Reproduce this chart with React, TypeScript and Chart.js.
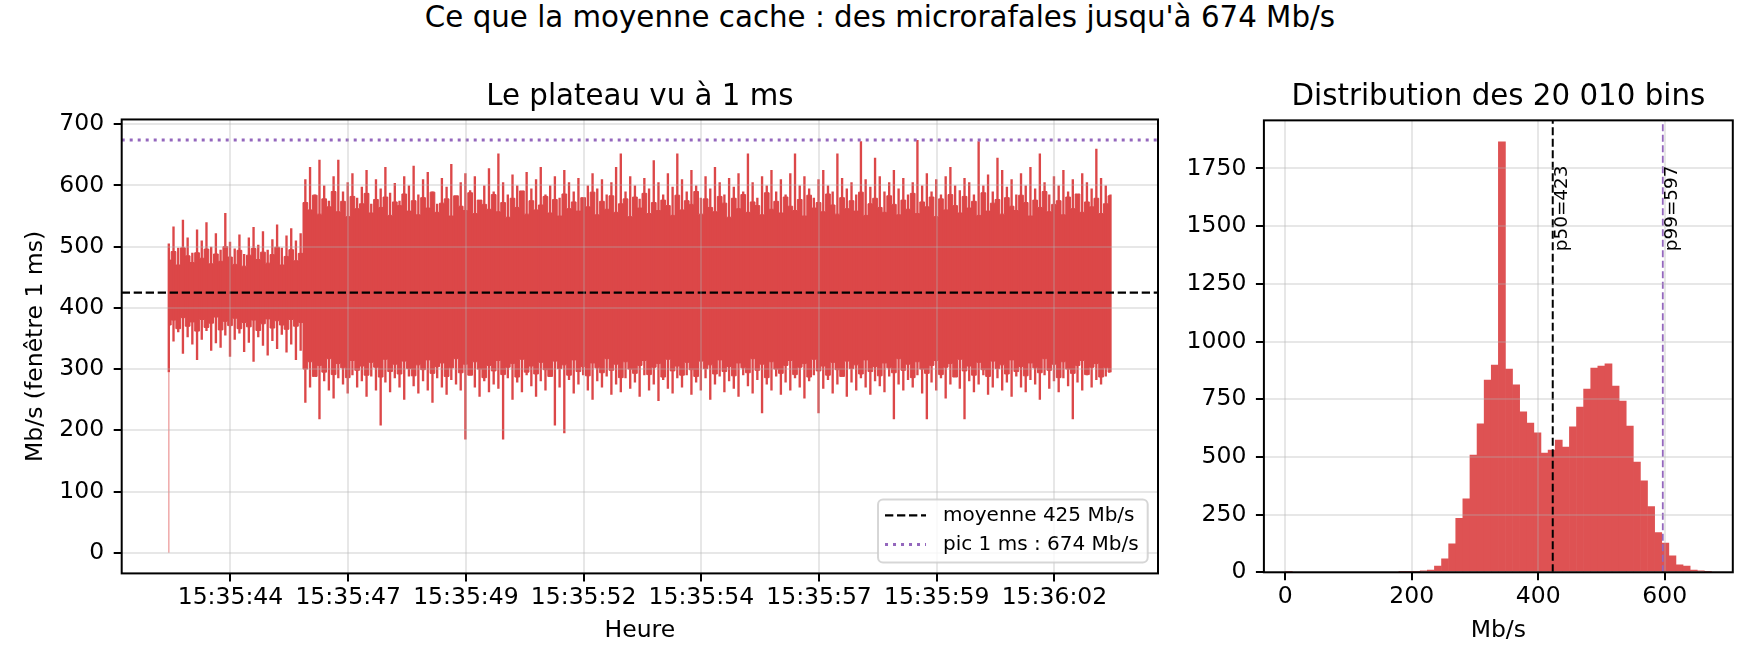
import { Chart, registerables, type ChartConfiguration, type Plugin } from "chart.js";
import { useEffect, useRef } from "react";

Chart.register(...registerables);

const FONT = "'DejaVu Sans', 'Liberation Sans', sans-serif";
const RED = "rgb(220, 71, 72)";
const BAR_RED = "rgb(222, 82, 83)";
const PURPLE = "#9467bd";
const GRID = "rgba(176, 176, 176, 0.3)";

Chart.defaults.font.family = FONT;
Chart.defaults.color = "#000";

// ---- time series: 20 010 bins of 1 ms, read in slices of 100 ms ----
const startSecond = 43.19; // seconds after 15:35:00
const sliceStep = 0.1;
const binTotal = 20010;
const firstBin = 0; // the very first 1 ms bin is empty
const meanRate = 425;
const peakRate = 674;

// where most 1 ms values of each slice lie (dense body)
const bodyHigh = [
  478, 492, 470, 498, 485, 474, 490, 481, 496, 472, 488, 476, 500, 483, 471, 494, 468, 486, 497, 479,
  491, 473, 487, 499, 470, 484, 495, 477, 489,
  572, 560, 584, 553, 578, 565, 590, 557, 574, 549,
  582, 562, 570, 587, 555, 577, 564, 581, 551, 573,
  567, 586, 558, 575, 552, 580, 563, 589, 556, 571,
  578, 550, 583, 566, 559, 588, 554, 576, 569, 561,
  585, 557, 572, 548, 579, 564, 591, 553, 575, 560,
  568, 582, 555, 577, 550, 586, 562, 573, 558, 580,
  565, 589, 552, 574, 561, 583, 556, 570, 578, 549,
  581, 563, 587, 554, 572, 559, 576, 567, 551, 584,
  560, 575, 569, 590, 553, 578, 564, 557, 582, 571,
  548, 579, 562, 585, 556, 573, 567, 552, 588, 561,
  574, 555, 581, 566, 559, 577, 550, 584, 563, 572,
  557, 586, 568, 553, 580, 562, 575, 558, 589, 551,
  570, 579, 564, 556, 583, 569, 552, 576, 561, 587,
  554, 573, 565, 581, 549, 578, 560, 585, 567, 555,
  582, 563, 574, 551, 588, 558, 571, 577, 553, 580,
  566, 559, 584, 572, 550, 576, 564, 590, 557, 569,
  575, 552, 581, 562, 586, 556, 573, 565, 579, 554,
  570, 583,
];

const bodyLow = [
  372, 380, 366, 384, 370, 377, 362, 381, 368, 375, 385, 364, 378, 371, 383, 366, 376, 369, 380, 363,
  374, 382, 367, 379, 372, 365, 381, 370, 376,
  300, 312, 288, 306, 295, 317, 291, 309, 302, 286,
  314, 298, 305, 290, 311, 303, 287, 316, 296, 308,
  292, 313, 301, 289, 307, 299, 315, 293, 304, 310,
  288, 302, 317, 294, 308, 290, 312, 300, 286, 306,
  297, 314, 291, 303, 309, 287, 316, 295, 305, 292,
  311, 299, 288, 313, 301, 307, 290, 315, 296, 304,
  289, 310, 302, 294, 317, 298, 308, 286, 312, 300,
  293, 306, 314, 291, 303, 309, 287, 316, 297, 305,
  290, 311, 299, 288, 313, 301, 307, 292, 315, 296,
  304, 289, 310, 302, 294, 317, 298, 308, 286, 312,
  300, 293, 306, 314, 291, 303, 309, 287, 316, 297,
  305, 290, 311, 299, 288, 313, 301, 307, 292, 315,
  296, 304, 289, 310, 302, 294, 317, 298, 308, 286,
  312, 300, 293, 306, 314, 291, 303, 309, 287, 316,
  297, 305, 290, 311, 299, 288, 313, 301, 307, 292,
  315, 296, 304, 289, 310, 302, 294, 317, 298, 308,
  286, 312, 300, 293, 306, 314, 291, 303, 309, 287,
  302, 295,
];

// highest / lowest 1 ms value reached in each slice (the spikes)
const spikeHigh = [
  505, 533, 498, 544, 515, 490, 528, 510, 540, 500, 522, 495, 555, 508, 497, 520, 488, 515, 532, 503,
  525, 495, 512, 536, 498, 518, 530, 510, 522,
  610, 630, 585, 642, 600, 575, 615, 642, 590, 605,
  620, 580, 598, 625, 570, 610, 595, 630, 588, 604,
  575, 615, 600, 632, 585, 610, 622, 590, 570, 612,
  598, 635, 580, 605, 620, 592, 615, 575, 600, 628,
  590, 652, 605, 585, 618, 600, 575, 622, 595, 610,
  630, 585, 600, 615, 580, 625, 605, 590, 612, 578,
  600, 620, 595, 610, 585, 605, 630, 652, 590, 615,
  600, 578, 612, 595, 641, 605, 585, 620, 598, 652,
  610, 590, 625, 600, 580, 615, 595, 630, 605, 585,
  612, 598, 620, 590, 652, 605, 580, 615, 600, 625,
  590, 610, 585, 620, 652, 600, 615, 595, 580, 610,
  625, 600, 590, 652, 612, 595, 605, 585, 672, 610,
  598, 645, 615, 590, 605, 625, 595, 612, 585, 605,
  674, 600, 620, 590, 610, 585, 615, 630, 600, 592,
  612, 605, 585, 672, 600, 618, 590, 645, 625, 598,
  610, 585, 620, 600, 630, 595, 652, 605, 585, 615,
  600, 625, 590, 610, 585, 620, 605, 595, 660, 612,
  600, 585,
];

const spikeLow = [
  295, 345, 360, 325, 352, 340, 315, 348, 362, 330, 342, 335, 355, 320, 348, 358, 328, 343, 312, 352,
  338, 322, 346, 333, 356, 327, 340, 315, 330,
  245, 270, 290, 218, 280, 265, 252, 285, 275, 260,
  290, 270, 280, 255, 288, 265, 208, 278, 262, 285,
  270, 250, 288, 272, 260, 280, 265, 245, 285, 270,
  258, 282, 275, 265, 185, 290, 270, 255, 280, 262,
  275, 268, 185, 285, 250, 278, 262, 290, 272, 255,
  280, 265, 288, 208, 270, 195, 282, 260, 275, 290,
  265, 250, 280, 270, 288, 258, 275, 262, 285, 268,
  278, 255, 290, 265, 275, 248, 282, 268, 260, 285,
  270, 290, 258, 278, 265, 285, 250, 275, 288, 262,
  280, 268, 255, 290, 272, 260, 282, 228, 275, 265,
  288, 258, 278, 265, 285, 270, 252, 280, 290, 228,
  268, 282, 260, 275, 290, 255, 278, 265, 285, 270,
  258, 280, 272, 262, 288, 218, 275, 265, 282, 270,
  290, 260, 218, 278, 265, 285, 252, 275, 288, 268,
  218, 280, 262, 275, 290, 258, 270, 285, 265, 278,
  255, 288, 270, 262, 282, 275, 250, 290, 268, 280,
  262, 285, 272, 218, 278, 265, 290, 270, 282, 275,
  288, 295,
];

const timeTickSeconds = [44.5, 47, 49.5, 52, 54.5, 57, 59.5, 62];
const timeTickLabels = [
  "15:35:44", "15:35:47", "15:35:49", "15:35:52",
  "15:35:54", "15:35:57", "15:35:59", "15:36:02",
];

// ---- histogram of the 1 ms bins ----
const histLow = 0;
const histHigh = 674;
const histCounts = [
  1, 0, 0, 0, 0, 0, 0, 0, 0, 0,
  0, 0, 0, 0, 0, 0, 2, 1, 3, 6,
  10, 27, 58, 123, 234, 318, 508, 643, 833, 898,
  1865, 881, 812, 695, 647, 604, 517, 530, 573, 543,
  630, 716, 794, 885, 894, 903, 807, 742, 634, 478,
  396, 285, 172, 127, 71, 32, 27, 10, 6, 2,
];
const p50 = 423;
const p99 = 597;

// ---- derived ----
const spanSeconds = (binTotal - 1) / 1000;
const xMin = startSecond - 0.05 * spanSeconds;
const xMax = startSecond + 1.05 * spanSeconds;
const rateLow = Math.min(firstBin, ...spikeLow);
const rateHigh = Math.max(peakRate, ...spikeHigh);
const ratePad = 0.05 * (rateHigh - rateLow);

const sliceTime = (i: number) => startSecond + i * sliceStep;
const bodyHighPoints = bodyHigh.map((y, i) => ({ x: sliceTime(i), y }));
const bodyLowPoints = bodyLow.map((y, i) => ({ x: sliceTime(i), y }));
const spikeBars = spikeHigh.map((hi, i) => ({ x: sliceTime(i), y: [spikeLow[i], hi] }));

const binWidth = (histHigh - histLow) / histCounts.length;
const histBars = histCounts.map((y, i) => ({ x: histLow + (i + 0.5) * binWidth, y }));
const histPad = 0.05 * (histHigh - histLow);
const countTop = Math.max(...histCounts) * 1.05;

const tickFont = { family: FONT, size: 23.5 };
const titleFont = { family: FONT, size: 29.3, weight: "normal" as const };
const gridStyle = { color: GRID, lineWidth: 2, tickColor: "#000", tickLength: 8, tickWidth: 2, z: 1 };
const plainNumber = (value: number | string) => `${value}`;

// ticks on the round multiples of `step` inside the axis range
const stepTicks = (step: number) => (scale: any) => {
  const ticks = [];
  for (let v = Math.ceil(scale.min / step) * step; v <= scale.max + 1e-9; v += step) {
    ticks.push({ value: v });
  }
  scale.ticks = ticks;
};

const framePlugin: Plugin = {
  id: "frame",
  afterDraw(chart) {
    const { ctx, chartArea } = chart;
    ctx.save();
    ctx.strokeStyle = "#000";
    ctx.lineWidth = 2;
    ctx.strokeRect(chartArea.left, chartArea.top, chartArea.width, chartArea.height);
    ctx.restore();
  },
};

// matplotlib-like legend in the lower right corner of the plot
const insideLegend: Plugin = {
  id: "insideLegend",
  afterDraw(chart) {
    const { ctx, chartArea } = chart;
    const items = chart.data.datasets.filter((d: any) => d.label);
    ctx.save();
    ctx.font = `20px ${FONT}`;
    const textW = Math.max(...items.map((d: any) => ctx.measureText(d.label).width));
    const w = 7 + 41 + 17 + textW + 9;
    const h = 63;
    const x = chartArea.right - 10.3 - w;
    const y = chartArea.bottom - 11 - h;
    ctx.beginPath();
    ctx.roundRect(x, y, w, h, 5);
    ctx.fillStyle = "rgba(255, 255, 255, 0.8)";
    ctx.fill();
    ctx.strokeStyle = "rgba(204, 204, 204, 0.8)";
    ctx.lineWidth = 2;
    ctx.stroke();
    items.forEach((d: any, i: number) => {
      const cy = y + 16 + i * 29;
      ctx.beginPath();
      ctx.setLineDash(d.borderDash || []);
      ctx.strokeStyle = d.borderColor;
      ctx.lineWidth = d.borderWidth;
      ctx.moveTo(x + 7, cy);
      ctx.lineTo(x + 48, cy);
      ctx.stroke();
      ctx.setLineDash([]);
      ctx.fillStyle = "#000";
      ctx.textBaseline = "middle";
      ctx.textAlign = "left";
      ctx.fillText(d.label, x + 65, cy);
    });
    ctx.restore();
  },
};

// rotated percentile labels next to the vertical lines
const percentileLabels: Plugin = {
  id: "percentileLabels",
  afterDraw(chart) {
    const { ctx } = chart;
    const xs = chart.scales.x;
    const ys = chart.scales.y;
    ctx.save();
    ctx.font = `18.4px ${FONT}`;
    ctx.fillStyle = "#000";
    ctx.textAlign = "right";
    ctx.textBaseline = "alphabetic";
    [
      [p50, `p50=${p50}`],
      [p99, `p99=${p99}`],
    ].forEach(([value, text]) => {
      ctx.save();
      ctx.translate(xs.getPixelForValue(value as number) + 14, ys.getPixelForValue(ys.max * 0.9));
      ctx.rotate(-Math.PI / 2);
      ctx.fillText(text as string, 0, 0);
      ctx.restore();
    });
    ctx.restore();
  },
};

const seriesConfig: ChartConfiguration<any> = {
  type: "line",
  data: {
    datasets: [
      {
        label: `moyenne ${meanRate} Mb/s`,
        data: [{ x: xMin, y: meanRate }, { x: xMax, y: meanRate }],
        borderColor: "#000",
        borderWidth: 2.2,
        borderDash: [8.3, 3.7],
        pointRadius: 0,
        order: 0,
      },
      {
        label: `pic 1 ms : ${peakRate} Mb/s`,
        data: [{ x: xMin, y: peakRate }, { x: xMax, y: peakRate }],
        borderColor: PURPLE,
        borderWidth: 3,
        borderDash: [3, 5],
        pointRadius: 0,
        order: 0,
      },
      {
        data: bodyHighPoints,
        stepped: "middle",
        fill: "+1",
        backgroundColor: RED,
        borderColor: RED,
        borderWidth: 1,
        pointRadius: 0,
        order: 2,
      },
      {
        data: bodyLowPoints,
        stepped: "middle",
        borderColor: RED,
        borderWidth: 1,
        pointRadius: 0,
        fill: false,
        order: 2,
      },
      {
        type: "bar",
        data: spikeBars,
        backgroundColor: RED,
        borderWidth: 0,
        barPercentage: 0.5,
        categoryPercentage: 1,
        inflateAmount: 0,
        order: 1,
      },
      {
        data: [{ x: startSecond, y: firstBin }, { x: startSecond, y: spikeLow[0] }],
        borderColor: "rgba(214, 39, 40, 0.4)",
        borderWidth: 1.5,
        pointRadius: 0,
        order: 1,
      },
    ],
  },
  options: {
    animation: false,
    responsive: false,
    events: [],
    layout: { padding: { left: 0, right: 22, top: 0, bottom: 0 } },
    plugins: {
      legend: { display: false },
      tooltip: { enabled: false },
      title: {
        display: true,
        text: "Le plateau vu à 1 ms",
        fullSize: false,
        color: "#000",
        font: titleFont,
        padding: { top: 79.4, bottom: 4.9 },
      },
    },
    scales: {
      x: {
        type: "linear",
        offset: false,
        min: xMin,
        max: xMax,
        afterBuildTicks: (scale: any) => {
          scale.ticks = timeTickSeconds.map((value) => ({ value }));
        },
        afterFit: (scale: any) => {
          scale.height = 98.6;
        },
        ticks: {
          autoSkip: false,
          maxRotation: 0,
          padding: 2.5,
          color: "#000",
          font: tickFont,
          callback: (_value: number, index: number) => timeTickLabels[index],
        },
        grid: { ...gridStyle, offset: false },
        border: { display: false },
        title: {
          display: true,
          text: "Heure",
          color: "#000",
          font: tickFont,
          padding: { top: 26.9, bottom: 26.9 },
        },
      },
      y: {
        type: "linear",
        min: rateLow - ratePad,
        max: rateHigh + ratePad,
        afterBuildTicks: stepTicks(100),
        afterFit: (scale: any) => {
          scale.width = 121.7;
        },
        ticks: { padding: 9.5, color: "#000", font: tickFont, callback: plainNumber },
        grid: gridStyle,
        border: { display: false },
        title: {
          display: true,
          text: "Mb/s (fenêtre 1 ms)",
          color: "#000",
          font: tickFont,
          padding: { top: 21.9, bottom: 21.9 },
        },
      },
    },
  },
  plugins: [framePlugin, insideLegend],
};

const histConfig: ChartConfiguration<any> = {
  type: "bar",
  data: {
    datasets: [
      {
        type: "line",
        data: [{ x: p50, y: 0 }, { x: p50, y: countTop }],
        borderColor: "#000",
        borderWidth: 2,
        borderDash: [8, 3.5],
        pointRadius: 0,
        order: 0,
      },
      {
        type: "line",
        data: [{ x: p99, y: 0 }, { x: p99, y: countTop }],
        borderColor: PURPLE,
        borderWidth: 1.8,
        borderDash: [7, 3.5],
        pointRadius: 0,
        order: 0,
      },
      {
        data: histBars,
        backgroundColor: BAR_RED,
        borderWidth: 0,
        barPercentage: 1,
        categoryPercentage: 1,
        inflateAmount: 0.3,
        order: 1,
      },
    ],
  },
  options: {
    animation: false,
    responsive: false,
    events: [],
    layout: { padding: { left: 0, right: 27.2, top: 0, bottom: 0 } },
    plugins: {
      legend: { display: false },
      tooltip: { enabled: false },
      title: {
        display: true,
        text: "Distribution des 20 010 bins",
        fullSize: false,
        color: "#000",
        font: titleFont,
        padding: { top: 79.4, bottom: 5.8 },
      },
    },
    scales: {
      x: {
        type: "linear",
        offset: false,
        min: histLow - histPad,
        max: histHigh + histPad,
        afterBuildTicks: stepTicks(200),
        afterFit: (scale: any) => {
          scale.height = 99.7;
        },
        ticks: { maxRotation: 0, padding: 2.5, color: "#000", font: tickFont, callback: plainNumber },
        grid: { ...gridStyle, offset: false },
        border: { display: false },
        title: {
          display: true,
          text: "Mb/s",
          color: "#000",
          font: tickFont,
          padding: { top: 26.9, bottom: 26.9 },
        },
      },
      y: {
        type: "linear",
        min: 0,
        max: countTop,
        afterBuildTicks: stepTicks(250),
        afterFit: (scale: any) => {
          scale.width = 83.9;
        },
        ticks: { padding: 9.5, color: "#000", font: tickFont, callback: plainNumber },
        grid: gridStyle,
        border: { display: false },
      },
    },
  },
  plugins: [framePlugin, percentileLabels],
};

type ChartCanvasProps = {
  config: ChartConfiguration<any>;
  left: number;
  width: number;
};

function ChartCanvas({ config, left, width }: ChartCanvasProps) {
  const canvasRef = useRef<HTMLCanvasElement>(null);

  useEffect(() => {
    if (!canvasRef.current) {
      return undefined;
    }
    const chart = new Chart(canvasRef.current, config);
    return () => chart.destroy();
  }, [config]);

  return (
    <canvas
      ref={canvasRef}
      width={width}
      height={672}
      style={{ position: "absolute", left, top: 0, width, height: 672 }}
    />
  );
}

export default function App() {
  return (
    <div
      style={{
        position: "fixed",
        left: 0,
        top: 0,
        width: 1760,
        height: 672,
        background: "#fff",
        overflow: "hidden",
      }}
    >
      <div
        style={{
          position: "absolute",
          left: 0,
          top: 0,
          width: 1760,
          textAlign: "center",
          fontFamily: FONT,
          fontSize: 29.3,
          lineHeight: "34px",
          color: "#000",
        }}
      >
        Ce que la moyenne cache : des microrafales jusqu'à 674 Mb/s
      </div>
      <ChartCanvas config={seriesConfig} left={0} width={1180} />
      <ChartCanvas config={histConfig} left={1180} width={580} />
    </div>
  );
}
